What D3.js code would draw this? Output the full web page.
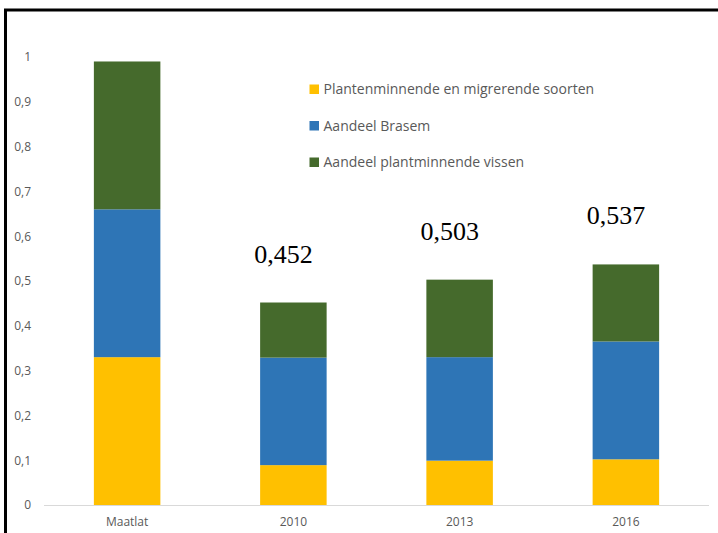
<!DOCTYPE html>
<html><head><meta charset="utf-8">
<script src="https://cdn.jsdelivr.net/npm/d3@7"></script>
<style>body{margin:0;background:#fff}svg{display:block}</style>
</head><body>
<svg id="c" width="718" height="533"></svg>
<script>
const categories = ["Maatlat", "2010", "2013", "2016"];
const seriesNames = ["Plantenminnende en migrerende soorten", "Aandeel Brasem", "Aandeel plantminnende vissen"];
const plantMigr = [0.33, 0.089, 0.099, 0.102];
const brasem = [0.33, 0.24, 0.231, 0.263];
const plantVissen = [0.33, 0.123, 0.173, 0.172];
const totalLabels = [null, "0,452", "0,503", "0,537"];
const yTicks = [0, 0.1, 0.2, 0.3, 0.4, 0.5, 0.6, 0.7, 0.8, 0.9, 1];
const colors = ["#FFC000", "#2E75B6", "#456A2C"];

const svg = d3.select("#c");
const W = 718, H = 533;
const m = {left: 44, right: 9, top: 57, bottom: 27};
const x = d3.scaleBand().domain(categories).range([m.left, W - m.right]).paddingInner(0.6).paddingOuter(0.3);
const y = d3.scaleLinear().domain([0, 1]).range([H - m.bottom - 1, m.top]);

const rows = categories.map((c, i) => ({cat: c, s0: plantMigr[i], s1: brasem[i], s2: plantVissen[i]}));
const stack = d3.stack().keys(["s0", "s1", "s2"])(rows);

// frame
svg.append("path").attr("d", `M5.5,${H} L5.5,10 L${W},10`).attr("fill", "none").attr("stroke", "#000").attr("stroke-width", 3);

// y axis labels
const ya = svg.append("g").attr("transform", `translate(${m.left},0)`)
  .call(d3.axisLeft(y).tickValues(yTicks).tickSize(0).tickPadding(13).tickFormat(d => d3.format(".1~f")(d).replace(".", ",")));
ya.select(".domain").remove();
ya.selectAll("text").attr("fill", "#595959").style("font-family", "'Open Sans', sans-serif").style("font-size", "12px");

// bars
stack.forEach((layer, k) => {
  svg.append("g").selectAll("rect").data(layer).join("rect")
    .attr("x", d => x(d.data.cat)).attr("width", x.bandwidth())
    .attr("y", d => y(d[1])).attr("height", d => y(d[0]) - y(d[1]))
    .attr("fill", colors[k]);
});

// baseline
svg.append("line").attr("x1", m.left).attr("x2", W - m.right).attr("y1", y(0) + 0.5).attr("y2", y(0) + 0.5)
  .attr("stroke", "#D9D9D9").attr("stroke-width", 1);

// x labels
const xa = svg.append("g").attr("transform", `translate(0,${y(0)})`)
  .call(d3.axisBottom(x).tickSize(0).tickPadding(12));
xa.select(".domain").remove();
xa.selectAll("text").attr("fill", "#595959").style("font-family", "'Open Sans', sans-serif").style("font-size", "12px");

// total annotations
const totals = rows.map(r => r.s0 + r.s1 + r.s2);
svg.append("g").selectAll("text").data(categories.filter((c, i) => totalLabels[i]))
  .join("text")
  .attr("x", c => x(c) + x.bandwidth() / 2 - 10)
  .attr("y", c => y(totals[categories.indexOf(c)]) - 40)
  .attr("text-anchor", "middle")
  .style("font-family", "'Liberation Serif', 'Times New Roman', serif").style("font-size", "26px")
  .attr("fill", "#000")
  .text(c => totalLabels[categories.indexOf(c)]);

// legend
const lg = svg.append("g").attr("transform", "translate(309.5,84.5)");
seriesNames.forEach((n, i) => {
  const g = lg.append("g").attr("transform", `translate(0,${i * 36.5})`);
  g.append("rect").attr("width", 9.5).attr("height", 9.5).attr("fill", colors[i]);
  g.append("text").attr("x", 14).attr("y", 9.6).attr("fill", "#595959")
    .style("font-family", "'Open Sans', sans-serif").style("font-size", "14px").text(n);
});
</script>
</body></html>
